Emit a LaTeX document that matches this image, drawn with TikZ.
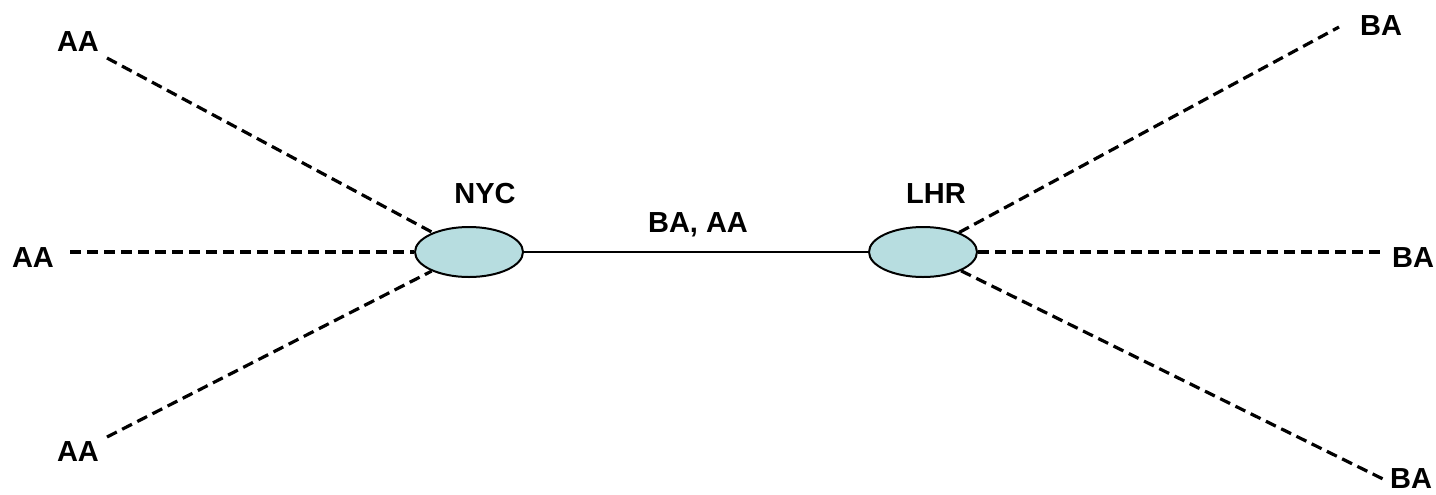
\documentclass[tikz,border=0pt]{standalone}
\usepackage{fontspec}
\setmainfont{Liberation Sans}
\usetikzlibrary{shapes.geometric}
\definecolor{hubfill}{RGB}{183,221,224}
\begin{document}
\begin{tikzpicture}[x=0.5pt,y=-0.5pt,
  lbl/.style={font=\fontsize{14.5}{17}\selectfont\bfseries, inner sep=0pt},
  hub/.style={ellipse, draw=black, line width=1pt, fill=hubfill, minimum width=54pt, minimum height=25pt, inner sep=0pt},
  dashline/.style={line width=1.6pt, dash pattern=on 5.5pt off 3pt},
  solidline/.style={line width=1pt}]
\useasboundingbox (0,0) rectangle (1436,494);
\node[hub] (nyc) at (469,252) {};
\node[hub] (lhr) at (923,252) {};
\node[lbl] (nyct) at (485,194) {NYC};
\node[lbl] (lhrt) at (936,194) {LHR};
\node[lbl] (route) at (698,225) {BA, AA};
\node[lbl] (aa1) at (78,42) {AA};
\node[lbl] (aa2) at (33,258) {AA};
\node[lbl] (aa3) at (78,452) {AA};
\node[lbl] (ba1) at (1381,26) {BA};
\node[lbl] (ba2) at (1413,258) {BA};
\node[lbl] (ba3) at (1411,479) {BA};
\coordinate (e1) at (107,58);
\coordinate (e2) at (70,252);
\coordinate (e3) at (107,437);
\coordinate (f1) at (1339,27);
\coordinate (f2) at (1380,252);
\coordinate (f3) at (1385,480);
\draw[solidline] (nyc) -- (lhr);
\draw[dashline] (e1) -- (nyc);
\draw[dashline] (e2) -- (nyc);
\draw[dashline] (e3) -- (nyc);
\draw[dashline] (lhr) -- (f1);
\draw[dashline] (lhr) -- (f2);
\draw[dashline] (lhr) -- (f3);
\end{tikzpicture}
\end{document}
